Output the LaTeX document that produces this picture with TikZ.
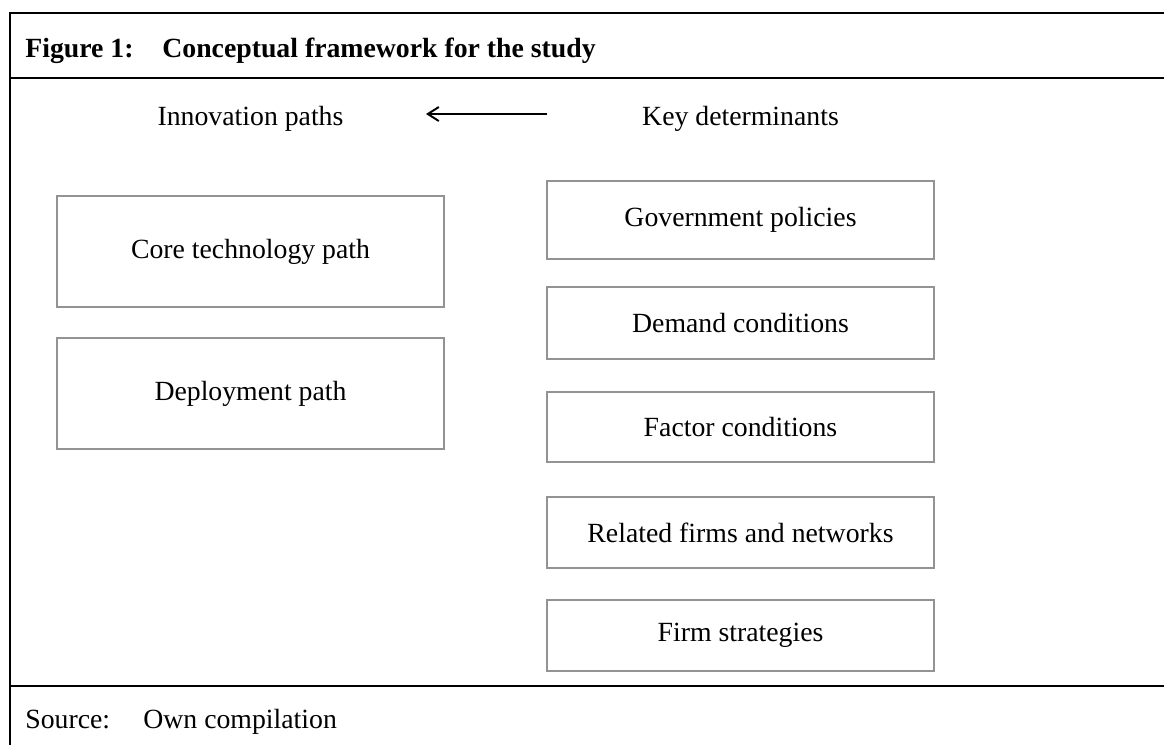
\documentclass[tikz,border=0pt]{standalone}
\usepackage{fontspec}
\setmainfont{Liberation Serif}
\usetikzlibrary{positioning,arrows.meta}

\begin{document}
\begin{tikzpicture}[x=0.02cm,y=-0.02cm,
  every node/.style={font=\fontsize{15.8}{19}\selectfont, inner sep=0pt},
  pathbox/.style={draw=gray!85, line width=1.1pt, minimum width=7.74cm},
  frame/.style={line width=1.2pt}]
  \def\lx{250.5} % centre of the left column
  \def\rx{740.5} % centre of the right column
  \useasboundingbox (0,0) rectangle (1164,745);
  % Draw the frame
  \draw[frame] (10,745) -- (10,13) -- (1164,13);
  \draw[frame] (10,78) -- (1164,78);
  \draw[frame] (10,686) -- (1164,686);
  % Title and source
  \node[anchor=base west] (fig) at (25,57) {\textbf{Figure 1:}};
  \node[anchor=base west] (title) at (162,57) {\textbf{Conceptual framework for the study}};
  \node[anchor=base west] (src) at (25,728) {Source:};
  \node[anchor=base west] (own) at (143,728) {Own compilation};
  % Column heads
  \node[anchor=base] (innov) at (\lx,125) {Innovation paths};
  \node[anchor=base] (keydet) at (\rx,125) {Key determinants};
  \coordinate (arrstart) at (547,114);
  \coordinate (arrend) at (426,114);
  \draw[line width=1.1pt,-{Straight Barb[length=2.2mm,width=2.8mm]}] (arrstart) -- (arrend);
  % Innovation paths
  \node[pathbox, minimum height=2.22cm] (core) at (\lx,251.5) {Core technology path};
  \node[pathbox, minimum height=2.22cm] (deploy) at (\lx,393.5) {Deployment path};
  % Key determinants
  \node[pathbox, minimum height=1.56cm] (gov) at (\rx,220) {Government policies};
  \node[pathbox, minimum height=1.44cm] (demand) at (\rx,323) {Demand conditions};
  \node[pathbox, minimum height=1.40cm] (factor) at (\rx,427) {Factor conditions};
  \node[pathbox, minimum height=1.42cm] (related) at (\rx,532.5) {Related firms and networks};
  \node[pathbox, minimum height=1.42cm] (firm) at (\rx,635.5) {Firm strategies};
\end{tikzpicture}
\end{document}
